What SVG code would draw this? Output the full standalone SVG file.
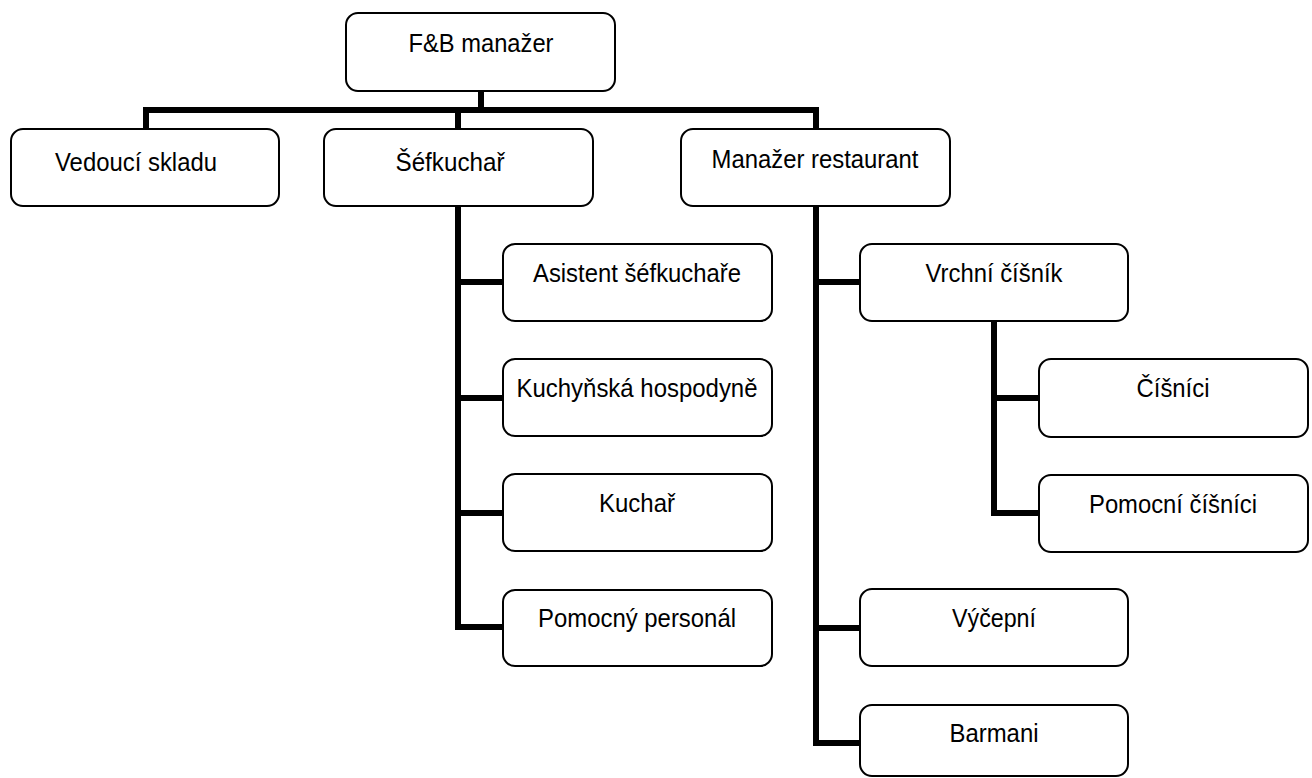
<svg xmlns="http://www.w3.org/2000/svg" width="1312" height="778" viewBox="0 0 1312 778">
<style>
.box{fill:#fff;stroke:#000;stroke-width:2}
.lbl{font-family:"Liberation Sans",Arial,sans-serif;font-size:25.5px;fill:#000;text-anchor:middle}
.con{fill:none;stroke:#000;stroke-width:6;stroke-linejoin:miter;stroke-linecap:butt}
</style>
<rect width="1312" height="778" fill="#fff"/>
<g id="connectors">
<path class="con" d="M481,91 V110"/>
<path class="con" d="M146,130 V110 H816 V130"/>
<path class="con" d="M458,110 V130"/>
<path class="con" d="M458,206 V627 H504"/>
<path class="con" d="M458,282 H504 M458,398 H504 M458,513 H504"/>
<path class="con" d="M816,206 V743 H861"/>
<path class="con" d="M816,282 H861 M816,628 H861"/>
<path class="con" d="M994,321 V513 H1040"/>
<path class="con" d="M994,398 H1040"/>
</g>
<g id="fb"><rect class="box" x="346" y="13" width="269" height="78" rx="12"/><text class="lbl" x="481" y="52" textLength="145" lengthAdjust="spacingAndGlyphs">F&amp;B manažer</text></g>
<g id="vedouci"><rect class="box" x="11" y="129" width="268" height="77" rx="12"/><text class="lbl" x="136" y="171" textLength="162" lengthAdjust="spacingAndGlyphs">Vedoucí skladu</text></g>
<g id="sefkuchar"><rect class="box" x="324" y="129" width="269" height="77" rx="12"/><text class="lbl" x="450" y="171" textLength="109" lengthAdjust="spacingAndGlyphs">Šéfkuchař</text></g>
<g id="manazer"><rect class="box" x="681" y="129" width="269" height="77" rx="12"/><text class="lbl" x="815" y="168" textLength="207" lengthAdjust="spacingAndGlyphs">Manažer restaurant</text></g>
<g id="asistent"><rect class="box" x="503" y="244" width="269" height="77" rx="12"/><text class="lbl" x="637" y="282" textLength="208" lengthAdjust="spacingAndGlyphs">Asistent šéfkuchaře</text></g>
<g id="hospodyne"><rect class="box" x="503" y="359" width="269" height="77" rx="12"/><text class="lbl" x="637" y="397" textLength="241" lengthAdjust="spacingAndGlyphs">Kuchyňská hospodyně</text></g>
<g id="kuchar"><rect class="box" x="503" y="474" width="269" height="77" rx="12"/><text class="lbl" x="637" y="512" textLength="76" lengthAdjust="spacingAndGlyphs">Kuchař</text></g>
<g id="pomocny"><rect class="box" x="503" y="590" width="269" height="76" rx="12"/><text class="lbl" x="637" y="627" textLength="198" lengthAdjust="spacingAndGlyphs">Pomocný personál</text></g>
<g id="vrchni"><rect class="box" x="860" y="244" width="268" height="77" rx="12"/><text class="lbl" x="994" y="282" textLength="137" lengthAdjust="spacingAndGlyphs">Vrchní číšník</text></g>
<g id="cisnici"><rect class="box" x="1039" y="359" width="269" height="78" rx="12"/><text class="lbl" x="1173" y="397" textLength="73" lengthAdjust="spacingAndGlyphs">Číšníci</text></g>
<g id="pomocni"><rect class="box" x="1039" y="475" width="269" height="77" rx="12"/><text class="lbl" x="1173" y="513" textLength="168" lengthAdjust="spacingAndGlyphs">Pomocní číšníci</text></g>
<g id="vycepni"><rect class="box" x="860" y="589" width="268" height="77" rx="12"/><text class="lbl" x="994" y="627" textLength="84" lengthAdjust="spacingAndGlyphs">Výčepní</text></g>
<g id="barmani"><rect class="box" x="860" y="705" width="268" height="71" rx="12"/><text class="lbl" x="994" y="742" textLength="89" lengthAdjust="spacingAndGlyphs">Barmani</text></g>
</svg>
